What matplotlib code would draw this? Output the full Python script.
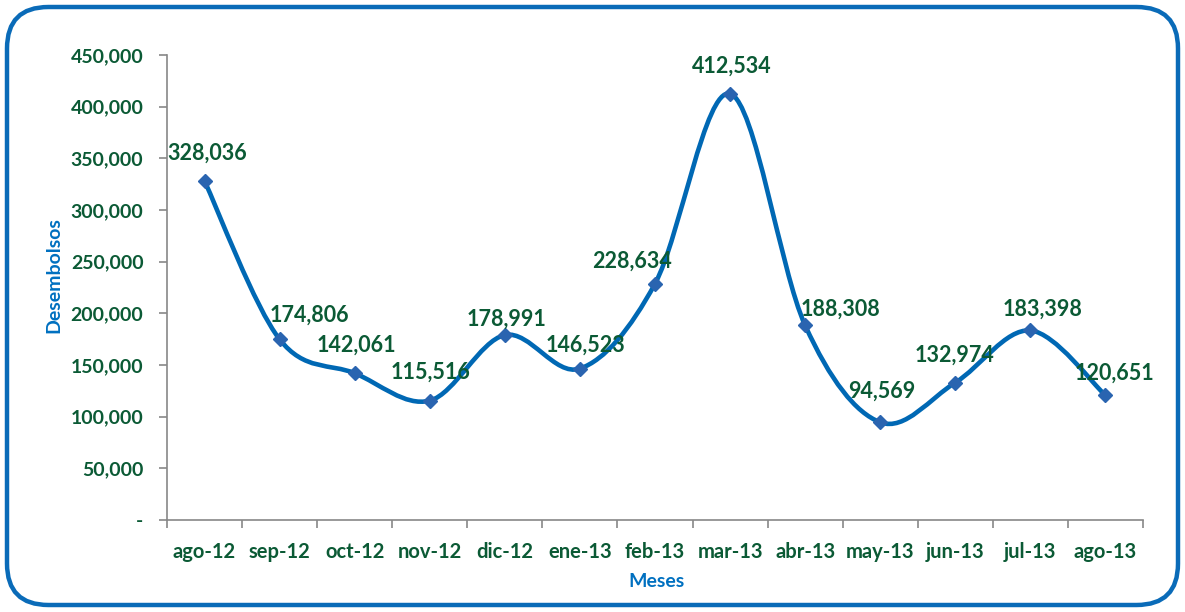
import numpy as np
import matplotlib
matplotlib.use("Agg")
import matplotlib.pyplot as plt
from matplotlib.patches import FancyBboxPatch
from matplotlib.path import Path
from matplotlib.patches import PathPatch
from matplotlib.ticker import FuncFormatter

months = ['ago-12', 'sep-12', 'oct-12', 'nov-12', 'dic-12', 'ene-13', 'feb-13',
          'mar-13', 'abr-13', 'may-13', 'jun-13', 'jul-13', 'ago-13']
disbursements = [328036, 174806, 142061, 115516, 178991, 146523, 228634,
                 412534, 188308, 94569, 132974, 183398, 120651]
# label offsets in pixels (dx, dy) from each point
label_offsets = [(3, 28), (30, 24), (2, 28), (1, 28), (2, 16), (6, 23), (-23, 23),
                 (2, 28), (35, 16), (2, 31), (-1, 27), (12, 21), (9, 22)]

GREEN = '#0B5A35'
BLUE = '#0068B4'
MARKER = '#2A64B0'

plt.rcParams['font.family'] = ['Lato', 'DejaVu Sans']
plt.rcParams['font.weight'] = 'bold'

fig = plt.figure(figsize=(11.85, 6.12), dpi=100)
ax = fig.add_axes([167 / 1185, 1 - 520 / 612, (1143 - 167) / 1185, (520 - 55) / 612])

# rounded frame around the chart
frame = FancyBboxPatch((7 / 1185, 7 / 612), 1171 / 1185, 598 / 612,
                       boxstyle='round,pad=0,rounding_size=0.035',
                       transform=fig.transFigure, fill=False,
                       edgecolor='#0A6BB8', linewidth=3.2, mutation_aspect=1185 / 612)
fig.patches.append(frame)

x = np.arange(len(months))
y = np.array(disbursements, dtype=float)

# Excel-like smoothed line (Catmull-Rom as cubic Bezier)
pts = np.column_stack([x, y])
verts = [pts[0]]
codes = [Path.MOVETO]
for i in range(len(pts) - 1):
    p0 = pts[i - 1] if i > 0 else pts[i]
    p1 = pts[i]
    p2 = pts[i + 1]
    p3 = pts[i + 2] if i + 2 < len(pts) else pts[i + 1]
    c1 = p1 + (p2 - p0) / 6
    c2 = p2 - (p3 - p1) / 6
    verts += [c1, c2, p2]
    codes += [Path.CURVE4] * 3
ax.add_patch(PathPatch(Path(verts, codes), fill=False, edgecolor=BLUE,
                       linewidth=3.3, capstyle='round', zorder=2))
ax.plot(x, y, linestyle='none', marker='D', markersize=7.5, color=MARKER,
        markeredgecolor=MARKER, zorder=3)

for xi, yi, (dx, dy) in zip(x, y, label_offsets):
    ax.annotate(f'{int(yi):,}', (xi, yi), xytext=(dx, dy), textcoords='offset pixels',
                ha='center', va='center', fontsize=15.5, fontweight='bold', color=GREEN,
                zorder=4)

ax.set_xlim(-0.5, len(months) - 0.5)
ax.set_ylim(0, 450000)
ax.set_yticks(np.arange(0, 450001, 50000))
ax.yaxis.set_major_formatter(FuncFormatter(lambda v, p: '-' if v == 0 else f'{int(v):,}'))
ax.set_xticks(np.arange(-0.5, len(months), 1.0))
ax.set_xticklabels([])
ax.set_xticks(x, minor=True)
ax.set_xticklabels(months, minor=True)
ax.tick_params(axis='x', which='minor', length=0, pad=16, labelsize=14.5, labelcolor=GREEN)
ax.tick_params(axis='x', which='major', length=6, color='#888888', width=1.2)
ax.tick_params(axis='y', length=6, color='#888888', width=1.2, pad=11,
               labelsize=14, labelcolor=GREEN)

for side in ['top', 'right']:
    ax.spines[side].set_visible(False)
for side in ['left', 'bottom']:
    ax.spines[side].set_color('#888888')
    ax.spines[side].set_linewidth(1.2)

ax.set_xlabel('Meses', fontsize=14, fontweight='bold', color='#0070C0')
ax.set_ylabel('Desembolsos', fontsize=14, fontweight='bold', color='#0070C0')
ax.yaxis.set_label_coords(-0.107, 0.527)
ax.xaxis.set_label_coords(0.502, -0.115)

fig.savefig('out.png', dpi=100)
